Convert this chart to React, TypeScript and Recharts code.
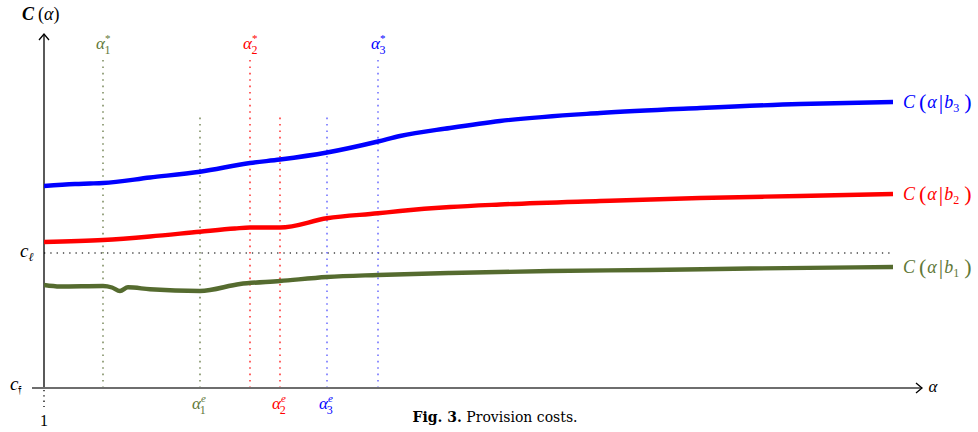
import React from 'react';
import { ComposedChart, Line, XAxis, YAxis, ReferenceLine, ReferenceDot } from 'recharts';

// α positions (arbitrary units, origin at α = 1) and provision costs (arbitrary units, origin at c_f)
const alphaB1 = [0, 16, 59, 68, 76, 84, 106, 156, 196, 236, 283, 334, 406, 506, 606, 706, 849];
const costB1 = [103, 101.5, 102, 100.5, 97, 100.7, 98.7, 97, 104, 107, 111, 113, 115, 117, 118, 119.5, 121];

const alphaB2 = [0, 59, 106, 156, 191, 206, 236, 283, 334, 356, 406, 456, 556, 656, 756, 849];
const costB2 = [146, 148, 151.5, 156.3, 159.5, 160.5, 160.5, 169.7, 174.7, 177, 181, 183.5, 187, 190, 192, 194];

const alphaB3 = [0, 31, 46, 59, 106, 156, 206, 236, 283, 334, 356, 406, 456, 556, 656, 756, 849];
const costB3 = [202, 204, 204.5, 205, 210.5, 216.3, 225, 228.5, 235.5, 246.5, 252, 260, 267, 275, 280, 284, 286];

const alphaStar = [59, 206, 334];
const alphaE = [156, 236, 283];
const cEll = 135;
const alphaMax = 878;
const costMax = 354;
const seriesNames = ['1', '2', '3'];

const seriesColors = ['#556b2f', '#ff0000', '#0000ff'];
const labelColors = ['#5f7838', '#ff0000', '#0000ff'];
const guideColors = ['#6f8050', '#ff2020', '#6060ff'];
const FONT = '"Liberation Serif", "DejaVu Serif", serif';
const CAPTION_FONT = '"DejaVu Serif", "Liberation Serif", serif';

const toPoints = (xs: number[], ys: number[]) => xs.map((a, i) => ({ alpha: a, cost: ys[i] }));
const series = [toPoints(alphaB1, costB1), toPoints(alphaB2, costB2), toPoints(alphaB3, costB3)];
const lastCost = [costB1[costB1.length - 1], costB2[costB2.length - 1], costB3[costB3.length - 1]];

const shapeOf = (render: (cx: number, cy: number) => React.ReactElement) => (props: any) =>
  <g>{render(props.cx, props.cy)}</g>;

export default function App() {
  return (
    <div style={{ position: 'absolute', left: 0, top: 0, width: 978, height: 432, background: '#fff' }}>
      <ComposedChart width={978} height={432} margin={{ top: 34, right: 56, bottom: 44, left: 44 }}>
        <XAxis dataKey="alpha" type="number" domain={[0, alphaMax]} hide allowDataOverflow />
        <YAxis dataKey="cost" type="number" domain={[0, costMax]} hide allowDataOverflow />

        {/* c_ℓ level */}
        <ReferenceLine segment={[{ x: 0, y: cEll }, { x: 849, y: cEll }]} stroke="#444" strokeWidth={1.3}
          strokeDasharray="1.3 5" ifOverflow="visible" />

        {/* guide lines */}
        {alphaStar.map((a, i) => (
          <ReferenceLine key={'s' + i} segment={[{ x: a, y: 0 }, { x: a, y: 328 }]} stroke={guideColors[i]}
            strokeWidth={1.4} strokeDasharray="1.6 4.8" ifOverflow="visible" />
        ))}
        {alphaE.map((a, i) => (
          <ReferenceLine key={'e' + i} segment={[{ x: a, y: 0 }, { x: a, y: 273 }]} stroke={guideColors[i]}
            strokeWidth={1.4} strokeDasharray="1.6 4.8" ifOverflow="visible" />
        ))}

        {/* axes */}
        <ReferenceLine segment={[{ x: 0, y: 0 }, { x: 0, y: costMax }]} stroke="#000" strokeWidth={1.3} ifOverflow="visible" />
        <ReferenceLine segment={[{ x: -12, y: 0 }, { x: alphaMax, y: 0 }]} stroke="#6e6e6e" strokeWidth={2} ifOverflow="visible" />
        <ReferenceLine segment={[{ x: 0, y: -2 }, { x: 0, y: -19 }]} stroke="#000" strokeWidth={1.3} strokeDasharray="1.3 4" ifOverflow="visible" />
        <ReferenceDot x={0} y={costMax} r={0} ifOverflow="visible"
          shape={shapeOf((cx, cy) => <path d={`M${cx - 5},${cy + 6} L${cx},${cy} L${cx + 5},${cy + 6}`} stroke="#000" strokeWidth={1.3} fill="none" />)} />
        <ReferenceDot x={alphaMax} y={0} r={0} ifOverflow="visible"
          shape={shapeOf((cx, cy) => <path d={`M${cx - 6},${cy - 5} L${cx},${cy} L${cx - 6},${cy + 5}`} stroke="#000" strokeWidth={1.3} fill="none" />)} />

        {/* series */}
        {series.map((d, i) => (
          <Line key={'l' + i} data={d} dataKey="cost" type="monotone" stroke={seriesColors[i]} strokeWidth={4.4}
            dot={false} activeDot={false} isAnimationActive={false} />
        ))}

        {/* axis labels */}
        <ReferenceDot x={-22} y={374} r={0} ifOverflow="visible"
          shape={shapeOf((cx, cy) => (
            <text x={cx} y={cy + 6} fontFamily={FONT} fontSize={18} fill="#000">
              <tspan fontWeight="bold" fontStyle="italic">C</tspan>
              <tspan dx={4}>(</tspan><tspan fontStyle="italic">α</tspan><tspan>)</tspan>
            </text>
          ))} />
        <ReferenceDot x={-24} y={cEll} r={0} ifOverflow="visible"
          shape={shapeOf((cx, cy) => (
            <text x={cx} y={cy + 4} fontFamily={FONT} fontSize={19} fill="#000">
              <tspan fontStyle="italic">c</tspan><tspan fontSize={12} dy={4} fontStyle="italic">ℓ</tspan>
            </text>
          ))} />
        <ReferenceDot x={-34} y={0} r={0} ifOverflow="visible"
          shape={shapeOf((cx, cy) => (
            <text x={cx} y={cy + 2} fontFamily={FONT} fontSize={19} fill="#000">
              <tspan fontStyle="italic">c</tspan><tspan fontSize={12} dy={4}>𝔣</tspan>
            </text>
          ))} />
        <ReferenceDot x={0} y={-33} r={0} ifOverflow="visible"
          shape={shapeOf((cx, cy) => (
            <text x={cx} y={cy + 5} textAnchor="middle" fontFamily={FONT} fontSize={16} fill="#000">1</text>
          ))} />
        <ReferenceDot x={889} y={0} r={0} ifOverflow="visible"
          shape={shapeOf((cx, cy) => (
            <text x={cx} y={cy + 4} textAnchor="middle" fontFamily={FONT} fontSize={17} fontStyle="italic" fill="#000">α</text>
          ))} />

        {/* α* labels */}
        {alphaStar.map((a, i) => (
          <ReferenceDot key={'ls' + i} x={a} y={343} r={0} ifOverflow="visible"
            shape={shapeOf((cx, cy) => (
              <text x={cx - 7} y={cy + 4} fontFamily={FONT} fontSize={17} fill={labelColors[i]}>
                <tspan fontStyle="italic">α</tspan>
                <tspan fontSize={11} dy={-7}>*</tspan>
                <tspan fontSize={12} dx={-6} dy={12}>{seriesNames[i]}</tspan>
              </text>
            ))} />
        ))}
        {/* αe labels */}
        {alphaE.map((a, i) => (
          <ReferenceDot key={'le' + i} x={a} y={-17} r={0} ifOverflow="visible"
            shape={shapeOf((cx, cy) => (
              <text x={cx - 8} y={cy + 4} fontFamily={FONT} fontSize={17} fill={labelColors[i]}>
                <tspan fontStyle="italic">α</tspan>
                <tspan fontSize={11} dy={-7} fontStyle="italic">e</tspan>
                <tspan fontSize={12} dx={-6} dy={12}>{seriesNames[i]}</tspan>
              </text>
            ))} />
        ))}

        {/* series labels */}
        {seriesNames.map((n, i) => (
          <ReferenceDot key={'n' + i} x={859} y={lastCost[i]} r={0} ifOverflow="visible"
            shape={shapeOf((cx, cy) => (
              <text x={cx} y={cy + 6} fontFamily={FONT} fontSize={18} fill={labelColors[i]}>
                <tspan fontStyle="italic">C</tspan>
                <tspan dx={4} fontSize={22} dy={1}>(</tspan>
                <tspan fontStyle="italic" dx={1} dy={-1}>α</tspan>
                <tspan dx={2} fontSize={22} dy={1}>|</tspan>
                <tspan fontStyle="italic" dx={1} dy={-1}>b</tspan>
                <tspan fontSize={12} dy={4}>{n}</tspan>
                <tspan dx={5} fontSize={22} dy={-3}>)</tspan>
              </text>
            ))} />
        ))}

        {/* caption */}
        <ReferenceDot x={451} y={-29} r={0} ifOverflow="visible"
          shape={shapeOf((cx, cy) => (
            <text x={cx} y={cy + 5} textAnchor="middle" fontFamily={CAPTION_FONT} fontSize={14} fill="#000">
              <tspan fontWeight="bold">Fig. 3.</tspan> Provision costs.
            </text>
          ))} />
      </ComposedChart>
    </div>
  );
}
